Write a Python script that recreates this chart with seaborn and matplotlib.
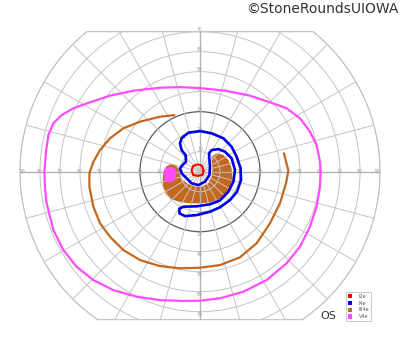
import numpy as np
import pandas as pd
import matplotlib
matplotlib.use("Agg")
import matplotlib.pyplot as plt
import seaborn as sns
from matplotlib.patches import Patch, Circle, Polygon

# ---------------- data (degrees, x = horizontal, y = vertical) ----------------
v4e_x = [0, -10, -20, -33.3, -45, -55, -63.3, -69.2, -73.3, -75.8, -77, -77.8, -77.5, -76.7,
         -73.3, -68.3, -61.7, -53.3, -43.3, -31.7, -20, -8.3, 0, 10, 21.7, 33.3, 43.3, 50, 55,
         58.3, 60, 60.3, 60, 58.3, 55, 50, 43.3, 35, 25, 13.3]
v4e_y = [41.8, 42.3, 42, 40.5, 38, 34.7, 31.7, 28.3, 24.2, 18.3, 10, 0, -8, -15.8,
         -29.2, -39.2, -47.5, -54.2, -59.2, -62.5, -64.2, -64.6, -64.5, -63.3, -60, -54.2, -45.8,
         -37.5, -27.5, -17.5, -7.5, 0, 5, 13.3, 20, 26.7, 31.7, 34.7, 38, 40.4]

iii4e_x = [-12.8, -20, -30, -38.3, -45, -50, -53.3, -55.3, -55.3, -53.3, -50, -45, -38.3, -30,
           -20, -10, 0, 10, 20, 28.3, 35, 40, 43, 44.2, 43, 42]
iii4e_y = [28.3, 27.5, 25, 21.7, 16.7, 10.8, 5, -0.8, -7.5, -17.5, -25.8, -32.5, -39.2, -44.2,
           -47.2, -48.3, -48, -46.7, -42.8, -35.8, -25.8, -15.8, -5.8, 0.5, 5, 9.2]

iii4e_fill_x = [5.8, 8.3, 11.7, 14.2, 15.8, 16.3, 15, 12.5, 9.2, 5, 0, -5, -10, -14.2, -17,
                -18.3, -18.7, -18.3, -17, -15, -12.5, -10.8, -10, -8.7, -5.8, -2.5, 0.8, 4.2,
                5.8, 6.3, 5.8]
iii4e_fill_y = [7.5, 9.2, 8.4, 5.9, 1.7, -3.3, -8.3, -11.7, -14.0, -15.4, -15.8, -15.8, -15.2,
                -13.8, -11.5, -8.3, -4.2, 0, 2.5, 3.7, 3.4, 1.7, -1.7, -4.2, -6.2, -7.5, -7.5,
                -5.8, -2.5, 1.7, 5]

v4e_island_x = [-18.3, -17.5, -15.3, -12.5, -11.7, -12.5, -15, -17.5]
v4e_island_y = [-0.8, 1.7, 2.5, 1.7, -0.8, -4.2, -5.5, -4.5]

i4e_x = [-8.3, -5.8, 0, 5.8, 11.7, 15.8, 18.3, 20.3, 20.5, 18.5, 15, 10, 5, -1.7, -7.5, -10.3,
         -10.3, -8.3, -1.7, 5, 10, 14.2, 16.7, 17.5, 15.8, 12.5, 9.2, 5.8, 4.5, 4.7, 5, 4.7,
         2.5, -0.8, -4.2, -6.7, -9.2, -10, -8.7, -7, -7.2, -9.2, -10, -9.2]
i4e_y = [17.5, 19.5, 20.3, 19.2, 16.7, 12.5, 7.5, 1.7, -4.2, -10, -14.2, -17.8, -20, -21.7,
         -22.2, -20.8, -18.5, -17.5, -17.3, -16.3, -14.4, -10, -5, 0.8, 6.7, 10, 11.3, 10.8,
         9.2, 5.8, 2.5, -1.7, -5, -6.7, -5.8, -3.3, -0.8, 1.7, 3.3, 5, 8.3, 10.8, 14.2, 16.7]

i2e_x = [1.8, 1.0, -1.0, -3.5, -4.2, -3.3, -1.0, 1.3]
i2e_y = [0.5, 3.0, 3.7, 2.8, 0.5, -1.7, -2.1, -1.5]

labels = ["I2e", "I4e", "III4e", "V4e"]
colors = {"I2e": "#ff0000", "I4e": "#0000e8", "III4e": "#c4681f", "V4e": "#ff4cff"}
ecc_rings = [10, 20, 30, 40, 50, 60, 70, 80, 90]
meridians = list(range(0, 360, 15))

# ---------------- figure ----------------
sns.set_style("white")
plt.rcParams["font.family"] = ["DejaVu Sans"]

fig = plt.figure(figsize=(4, 3.52), dpi=100)
ax = fig.add_axes([0, 0, 1, 1])
ax.set_xlim(-100, 100)
ax.set_ylim(-90.15, 85.85)
ax.axis("off")

# clip region: 90 deg circle cut at top (70) and bottom (-74)
top_c, bot_c = 70, -74
a_top = np.degrees(np.arcsin(top_c / 90))
a_bot = np.degrees(np.arcsin(-bot_c / 90))
t1 = np.radians(np.linspace(-a_bot, a_top, 120))
t2 = np.radians(np.linspace(180 - a_top, 180 + a_bot, 120))
bx = np.concatenate([90 * np.cos(t1), 90 * np.cos(t2)])
by = np.concatenate([90 * np.sin(t1), 90 * np.sin(t2)])
clip_poly = Polygon(np.column_stack([bx, by]), closed=True, transform=ax.transData,
                    fill=False, edgecolor="#bdbdbd", lw=0.8, zorder=1)
ax.add_patch(clip_poly)

grid_c = "#c4c4c4"
for r in ecc_rings:
    col, lw = (("#5a5a5a", 0.9) if r == 30 else (grid_c, 0.7))
    c = Circle((0, 0), r, fill=False, edgecolor=col, lw=lw, zorder=1)
    ax.add_patch(c)
    c.set_clip_path(clip_poly)
for m in meridians:
    th = np.radians(m)
    lw = 1.0 if m % 90 == 0 else 0.7
    col = "#b4b4b4" if m % 90 == 0 else grid_c
    ln, = ax.plot([0, 100 * np.cos(th)], [0, 100 * np.sin(th)], color=col, lw=lw, zorder=1)
    ln.set_clip_path(clip_poly)

lab_kw = dict(fontsize=3.3, color="#9a9a9a", ha="center", va="center", zorder=1.5)
for r in ecc_rings:
    xr = 88.6 if r == 90 else r
    ax.text(-xr, 0, str(r), **lab_kw)
    ax.text(xr, 0, str(r), **lab_kw)
    if r <= 70:
        ax.text(0, r + 1.3, str(r), **lab_kw)
        ax.text(0, -r - 1.3, str(r), **lab_kw)

# ---------------- isopters ----------------
ax.fill(iii4e_fill_x, iii4e_fill_y, color=colors["III4e"], zorder=0.5, lw=0)
ax.fill(v4e_island_x, v4e_island_y, color=colors["V4e"], zorder=2, lw=0)


def closed(xs, ys):
    return pd.DataFrame({"x": list(xs) + [xs[0]], "y": list(ys) + [ys[0]]})


sns.lineplot(data=closed(v4e_x, v4e_y), x="x", y="y", sort=False, estimator=None,
             color=colors["V4e"], lw=1.6, ax=ax, zorder=3)
sns.lineplot(data=pd.DataFrame({"x": iii4e_x, "y": iii4e_y}), x="x", y="y", sort=False,
             estimator=None, color=colors["III4e"], lw=1.6, ax=ax, zorder=3)
sns.lineplot(data=closed(i4e_x, i4e_y), x="x", y="y", sort=False, estimator=None,
             color=colors["I4e"], lw=1.9, ax=ax, zorder=4)
sns.lineplot(data=closed(i2e_x, i2e_y), x="x", y="y", sort=False, estimator=None,
             color=colors["I2e"], lw=1.5, ax=ax, zorder=4)
ax.set_xlim(-100, 100)
ax.set_ylim(-90.15, 85.85)
ax.axis("off")

# ---------------- legend & texts ----------------
handles = [Patch(facecolor=colors[k], edgecolor="none", label=k) for k in labels]
leg = ax.legend(handles=handles, loc="upper left", bbox_to_anchor=(0.864, 0.171),
                bbox_transform=fig.transFigure, borderaxespad=0, fontsize=3.5,
                handlelength=1.0, handleheight=1.0, labelspacing=0.37, borderpad=0.4,
                handletextpad=1.3, frameon=True, fancybox=False, edgecolor="#b0b0b0")
leg.get_frame().set_linewidth(0.6)
for t in leg.get_texts():
    t.set_color("#555555")

fig.text(328 / 400, 1 - 316 / 352, "OS", fontsize=8, color="#333333", ha="center", va="center")
fig.text(0.997, 1 - 8.5 / 352, "©StoneRoundsUIOWA", fontsize=10, color="#333333",
         ha="right", va="center")

fig.savefig("out.png", dpi=100)
